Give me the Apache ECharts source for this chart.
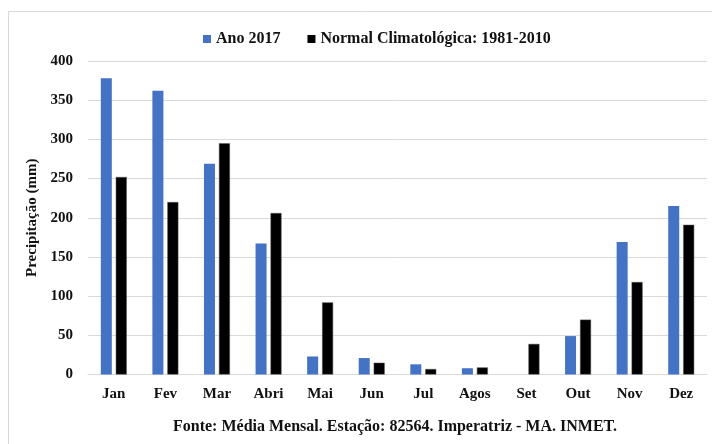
<!DOCTYPE html>
<html>
<head>
<meta charset="utf-8">
<script src="https://cdn.jsdelivr.net/npm/echarts@6/dist/echarts.min.js"></script>
<style>
  html, body { margin: 0; padding: 0; background: #fff; }
  #chart { width: 712px; height: 444px; }
</style>
</head>
<body>
<div id="chart"></div>
<script>
const meses = ['Jan', 'Fev', 'Mar', 'Abri', 'Mai', 'Jun', 'Jul', 'Agos', 'Set', 'Out', 'Nov', 'Dez']
const ano2017 = [378, 362, 269, 167, 23, 21, 13, 8, 0, 49, 169, 215]
const normal = [252, 220, 295, 206, 92, 15, 7, 9, 39, 70, 118, 191]
const serieNomes = ['Ano 2017', 'Normal Climatológica: 1981-2010']
const fonte = 'Fonte: Média Mensal. Estação: 82564. Imperatriz - MA. INMET.'

const fonteSerif = '"Liberation Serif", "DejaVu Serif", serif'
const chart = echarts.init(document.getElementById('chart'))

chart.setOption({
  animation: false,
  color: ['#4472C4', '#000000'],
  textStyle: { fontFamily: fonteSerif },
  graphic: [
    {
      type: 'rect',
      shape: { x: 8.5, y: 11.5, width: 720, height: 450 },
      style: { fill: 'none', stroke: '#d9d9d9', lineWidth: 1 }
    },
    {
      type: 'text',
      left: 173,
      top: 419,
      style: {
        text: fonte,
        font: 'bold 16px ' + fonteSerif,
        fill: '#111'
      }
    }
  ],
  legend: {
    top: 26,
    left: 198,
    itemWidth: 8,
    itemHeight: 8,
    itemGap: 27,
    icon: 'rect',
    itemStyle: { borderWidth: 0 },
    textStyle: { fontSize: 16, fontWeight: 'bold', color: '#111', fontFamily: fonteSerif },
    data: serieNomes
  },
  grid: {
    left: 88,
    right: 5,
    top: 61,
    bottom: 69.5
  },
  xAxis: {
    type: 'category',
    data: meses,
    axisTick: { show: false },
    axisLine: { lineStyle: { color: '#d9d9d9' } },
    axisLabel: {
      margin: 12,
      fontSize: 15,
      fontWeight: 'bold',
      color: '#111',
      fontFamily: fonteSerif
    }
  },
  yAxis: {
    type: 'value',
    min: 0,
    max: 400,
    interval: 50,
    name: 'Precipitação (mm)',
    nameLocation: 'middle',
    nameGap: 48,
    nameTextStyle: { fontSize: 15, fontWeight: 'bold', color: '#111', fontFamily: fonteSerif },
    axisLabel: {
      margin: 15,
      fontSize: 15,
      fontWeight: 'bold',
      color: '#111',
      fontFamily: fonteSerif
    },
    splitLine: { lineStyle: { color: '#d9d9d9' } }
  },
  series: [
    {
      name: serieNomes[0],
      type: 'bar',
      data: ano2017,
      barWidth: 11,
      barGap: '36%'
    },
    {
      name: serieNomes[1],
      type: 'bar',
      data: normal,
      barWidth: 11,
      itemStyle: { borderColor: '#555', borderWidth: 0.5 }
    }
  ]
})
</script>
</body>
</html>
